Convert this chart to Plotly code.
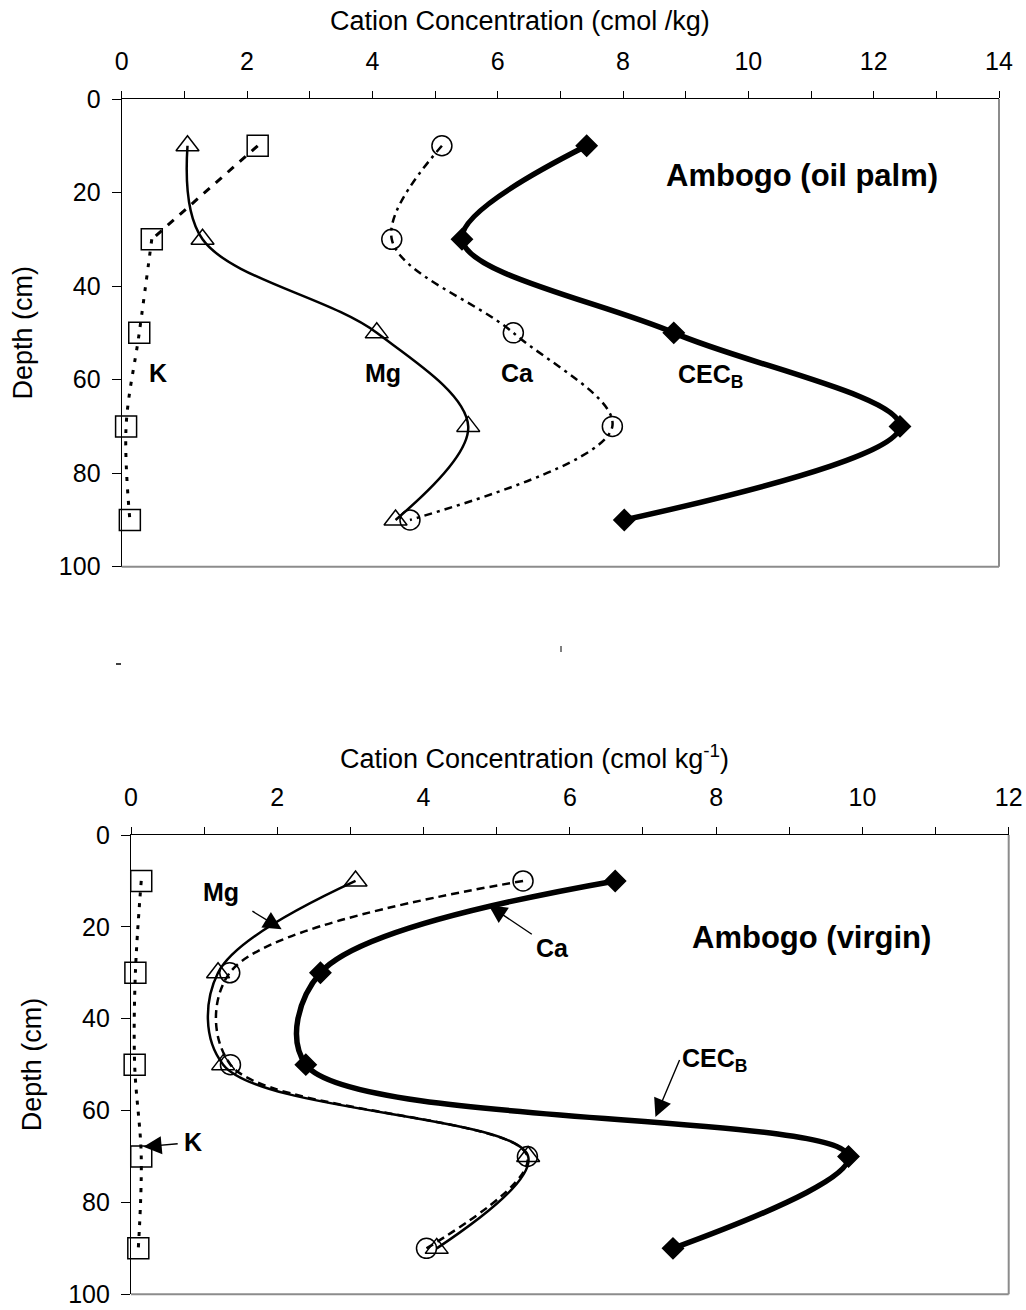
import plotly.graph_objects as go

# Soil depth of each sampling layer (cm)
depths = [10, 30, 50, 70, 90]

# Ambogo (oil palm) profile, cmol/kg
k_palm = [2.17, 0.48, 0.28, 0.07, 0.13]
mg_palm = [1.05, 1.29, 4.07, 5.53, 4.37]
ca_palm = [5.11, 4.31, 6.25, 7.83, 4.60]
cec_palm = [7.42, 5.43, 8.81, 12.42, 8.02]

# Ambogo (virgin) profile, cmol/kg
k_virgin = [0.14, 0.06, 0.05, 0.14, 0.10]
mg_virgin = [3.07, 1.19, 1.26, 5.43, 4.18]
ca_virgin = [5.36, 1.35, 1.36, 5.42, 4.04]
cec_virgin = [6.62, 2.59, 2.39, 9.81, 7.41]

FONT = "Arial, Liberation Sans, sans-serif"
W, H = 1026, 1310

fig = go.Figure()


def series(x, y, xa, ya, dash, width, symbol, size, shape="spline", mode="lines+markers"):
    fig.add_trace(go.Scatter(
        x=x, y=y, xaxis=xa, yaxis=ya, mode=mode,
        line=dict(color="black", width=width, dash=dash, shape=shape, smoothing=1),
        marker=dict(symbol=symbol, size=size, color="black",
                    line=dict(color="black", width=1.5)),
        showlegend=False, hoverinfo="skip", cliponaxis=False,
    ))


# --- upper panel: oil palm ---
series(k_palm[:2], depths[:2], "x", "y", "8px,8px", 3, "square-open", 21, shape="linear", mode="lines")
series(k_palm[1:], depths[1:], "x", "y", "4px,8px", 3, "square-open", 21, mode="lines")
series(k_palm, depths, "x", "y", "solid", 0, "square-open", 21, mode="markers")
series(mg_palm, depths, "x", "y", "solid", 2.5, "triangle-up-open", 20)
series(ca_palm, depths, "x", "y", "8px,5px,3px,5px", 2.5, "circle-open", 20)
series(cec_palm, depths, "x", "y", "solid", 5.5, "diamond", 16)

# --- lower panel: virgin ---
series(k_virgin, depths, "x2", "y2", "4px,7px", 3, "square-open", 21)
series(mg_virgin, depths, "x2", "y2", "solid", 2.5, "triangle-up-open", 20)
series(ca_virgin, depths, "x2", "y2", "8px,5px", 2.5, "circle-open", 20)
series(cec_virgin, depths, "x2", "y2", "solid", 5.5, "diamond", 16)


def xaxis_cfg(domain, rng, anchor):
    return dict(
        domain=domain, range=rng, anchor=anchor, side="top", automargin=False,
        tick0=0, dtick=2, ticks="outside", ticklen=7, tickwidth=1.3, tickcolor="black",
        minor=dict(dtick=1, ticks="outside", ticklen=7, tickwidth=1.3, tickcolor="black", showgrid=False),
        showline=True, linecolor="black", linewidth=1.3,
        showgrid=False, zeroline=False,
        tickfont=dict(family=FONT, size=25, color="black"),
        ticklabelstandoff=11,
    )


def yaxis_cfg(domain, anchor):
    return dict(
        domain=domain, range=[100, 0], anchor=anchor, automargin=False,
        tick0=0, dtick=20, ticks="outside", ticklen=9, tickwidth=1.3, tickcolor="black",
        showline=True, linecolor="black", linewidth=1.3,
        showgrid=False, zeroline=False,
        tickfont=dict(family=FONT, size=25, color="black"),
        ticklabelstandoff=6,
    )


fig.update_layout(
    template="none",
    width=W, height=H,
    margin=dict(l=0, r=0, t=0, b=0, pad=0),
    paper_bgcolor="white", plot_bgcolor="white",
    xaxis=xaxis_cfg([121.7 / W, 999 / W], [0, 14], "y"),
    yaxis=yaxis_cfg([1 - 566.7 / H, 1 - 99 / H], "x"),
    xaxis2=xaxis_cfg([131 / W, 1008.7 / W], [0, 12], "y2"),
    yaxis2=yaxis_cfg([1 - 1294.3 / H, 1 - 835 / H], "x2"),
)

# gray right/bottom frame lines
shapes = []
for xa, ya in (("x", "y"), ("x2", "y2")):
    shapes.append(dict(type="line", xref=f"{xa} domain", yref=f"{ya} domain",
                       x0=1, x1=1, y0=0, y1=1, line=dict(color="#8c8c8c", width=2)))
    shapes.append(dict(type="line", xref=f"{xa} domain", yref=f"{ya} domain",
                       x0=0, x1=1, y0=0, y1=0, line=dict(color="#8c8c8c", width=2)))
# small stray marks between the panels
shapes.append(dict(type="line", xref="paper", yref="paper",
                   x0=116 / W, x1=121 / W, y0=1 - 664 / H, y1=1 - 664 / H,
                   line=dict(color="black", width=1.5)))
shapes.append(dict(type="line", xref="paper", yref="paper",
                   x0=561 / W, x1=561 / W, y0=1 - 646 / H, y1=1 - 652 / H,
                   line=dict(color="black", width=1)))
fig.update_layout(shapes=shapes)

ann = []


def txt(text, x, y, xref, yref, size, bold=True, angle=0):
    ann.append(dict(text=f"<b>{text}</b>" if bold else text, x=x, y=y, xref=xref, yref=yref,
                    showarrow=False, xanchor="center", yanchor="middle", textangle=angle,
                    font=dict(family=FONT, size=size, color="black")))


def pointer(text, x_lab, y_lab, x_tip, y_tip, xa, ya, xanchor="center", yanchor="middle", gap=0):
    ann.append(dict(text=f"<b>{text}</b>", x=x_tip, y=y_tip, ax=x_lab, ay=y_lab,
                    xref=xa, yref=ya, axref=xa, ayref=ya,
                    xanchor=xanchor, yanchor=yanchor,
                    font=dict(family=FONT, size=25, color="black"),
                    showarrow=True, arrowhead=2, arrowsize=2.6, arrowwidth=1.4,
                    arrowcolor="black", standoff=0, startstandoff=gap))


# axis titles
txt("Cation Concentration (cmol /kg)", 520 / W, 1 - 21 / H, "paper", "paper", 27, bold=False)
txt("Cation Concentration (cmol kg<sup>-1</sup>)", 534 / W, 1 - 757 / H, "paper", "paper", 27, bold=False)
txt("Depth (cm)", 22.5 / W, 1 - 333 / H, "paper", "paper", 27, bold=False, angle=-90)
txt("Depth (cm)", 31.7 / W, 1 - 1064.5 / H, "paper", "paper", 27, bold=False, angle=-90)

# upper panel labels
txt("Ambogo (oil palm)", 10.86, 16.3, "x", "y", 31)
txt("K", 0.58, 58.5, "x", "y", 25)
txt("Mg", 4.17, 58.5, "x", "y", 25)
txt("Ca", 6.31, 58.5, "x", "y", 25)
txt("CEC<sub>B</sub>", 9.4, 59.3, "x", "y", 25)

# lower panel labels with pointers
txt("Ambogo (virgin)", 9.31, 22.4, "x2", "y2", 31)
pointer("Mg", 1.23, 12.4, 2.06, 20.5, "x2", "y2", gap=14)
pointer("Ca", 5.76, 24.6, 4.89, 15.3, "x2", "y2", gap=3)
pointer("CEC<sub>B</sub>", 7.50, 49.0, 7.17, 61.4, "x2", "y2", xanchor="left", yanchor="middle")
pointer("K", 0.85, 66.9, 0.17, 67.9, "x2", "y2", gap=5)

fig.update_layout(annotations=ann)

fig.write_html("out.html")
